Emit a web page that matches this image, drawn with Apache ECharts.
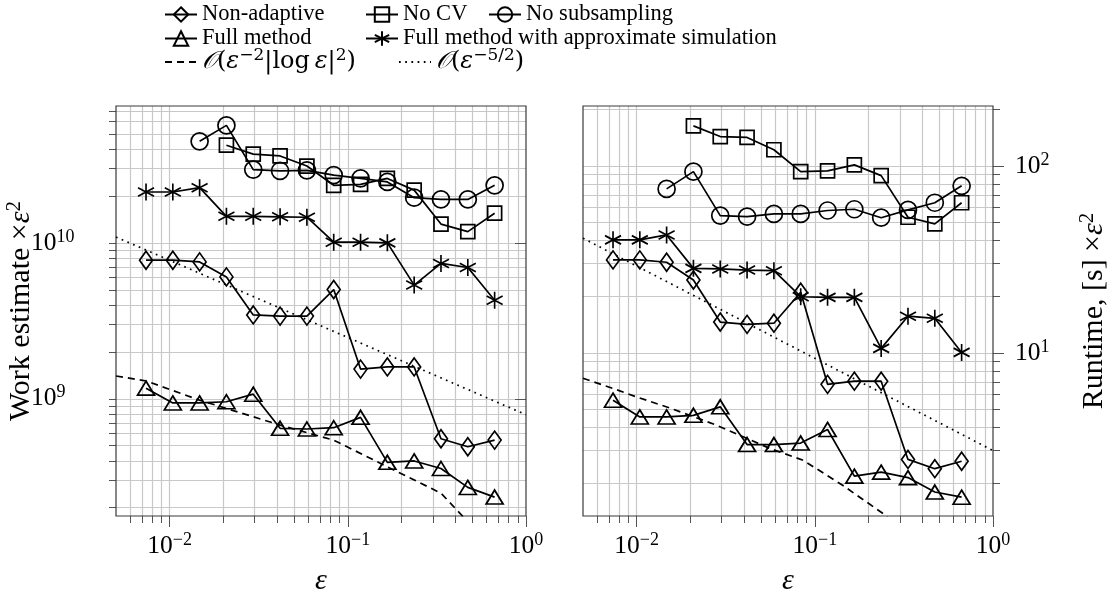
<!DOCTYPE html>
<html><head><meta charset="utf-8">
<script src="https://cdn.jsdelivr.net/npm/echarts@6/dist/echarts.min.js"></script>
<style>html,body{margin:0;padding:0;background:#fff}#c{width:1109px;height:594px}</style>
</head><body><div id="c"></div>
<script>
// ---------- data ----------
const eps = [0.00737, 0.01042, 0.01473, 0.02083, 0.02946, 0.04167, 0.05893, 0.08333, 0.1179, 0.1667, 0.2357, 0.3333, 0.4714, 0.6667];

// Work estimate x eps^2 (left panel)
const nonAdaptiveWork = [7.74e9, 7.74e9, 7.55e9, 6.05e9, 3.45e9, 3.39e9, 3.39e9, 5.02e9, 1.55e9, 1.60e9, 1.60e9, 5.54e8, 4.92e8, 5.43e8];
const noCvWork = [null, null, null, 4.23e10, 3.71e10, 3.61e10, 3.11e10, 2.34e10, 2.37e10, 2.59e10, 2.18e10, 1.32e10, 1.18e10, 1.55e10];
const noSubWork = [null, null, 4.48e10, 5.67e10, 2.95e10, 2.90e10, 2.92e10, 2.72e10, 2.59e10, 2.46e10, 1.95e10, 1.90e10, 1.90e10, 2.34e10];
const fullWork = [1.17e9, 9.4e8, 9.4e8, 9.57e8, 1.07e9, 6.46e8, 6.40e8, 6.52e8, 7.60e8, 3.91e8, 3.99e8, 3.57e8, 2.70e8, 2.34e8];
const fullApproxWork = [2.12e10, 2.12e10, 2.26e10, 1.48e10, 1.48e10, 1.47e10, 1.46e10, 1.01e10, 1.01e10, 1.0e10, 5.36e9, 7.38e9, 6.95e9, 4.28e9];

// Runtime [s] x eps^2 (right panel)
const nonAdaptiveTime = [31.4, 31.4, 30.5, 24.5, 14.6, 14.2, 14.4, 21.1, 6.78, 7.05, 7.05, 2.69, 2.40, 2.63];
const noCvTime = [null, null, null, 163.7, 143.5, 141.9, 121.9, 93.1, 94.0, 101.2, 88.7, 53.1, 48.9, 63.5];
const noSubTime = [null, null, 75.3, 93.1, 54.2, 53.5, 55.3, 55.3, 57.7, 58.6, 52.8, 58.1, 63.5, 78.2];
const fullTime = [5.58, 4.54, 4.54, 4.63, 5.14, 3.23, 3.23, 3.29, 3.89, 2.19, 2.30, 2.15, 1.80, 1.69];
const fullApproxTime = [40.2, 40.2, 42.7, 28.3, 28.1, 27.7, 27.5, 19.95, 19.8, 19.8, 10.56, 15.7, 15.3, 10.05];

// reference rates
const dashEpsLeft = [0.005, 0.0074, 0.0147, 0.0417, 0.0833, 0.1667, 0.3333, 0.44, 0.52];
const dashLeft = [1.40e9, 1.30e9, 9.8e8, 6.78e8, 5.43e8, 3.66e8, 2.48e8, 1.77e8, 1.45e8];
const dotEpsLeft = [0.005, 1];
const dotLeft = [1.09e10, 7.9e8];
const dashEpsRight = [0.005, 0.0074, 0.00998, 0.01535, 0.0281, 0.0559, 0.0861, 0.144, 0.242, 0.28];
const dashRight = [7.31, 6.44, 5.81, 5.07, 4.10, 3.08, 2.66, 1.95, 1.38, 1.2];
const dotEpsRight = [0.005, 1];
const dotRight = [41, 3.0];

// axes
const xRange = [0.005, 1];
const yRangeLeft = [1.77e8, 7.55e10];
const yRangeRight = [1.34, 209];
const xMajorTicks = [0.01, 0.1, 1];
const xMinorTicks = [0.006, 0.007, 0.008, 0.009, 0.01, 0.02, 0.03, 0.04, 0.05, 0.06, 0.07, 0.08, 0.09, 0.1, 0.2, 0.3, 0.4, 0.5, 0.6, 0.7, 0.8, 0.9];
const yMajorTicksLeft = [1e9, 1e10];
const yMinorTicksLeft = [2e8, 3e8, 4e8, 5e8, 6e8, 7e8, 8e8, 9e8, 1e9, 2e9, 3e9, 4e9, 5e9, 6e9, 7e9, 8e9, 9e9, 1e10, 2e10, 3e10, 4e10, 5e10, 6e10, 7e10];
const yMajorTicksRight = [10, 100];
const yMinorTicksRight = [2, 3, 4, 5, 6, 7, 8, 9, 10, 20, 30, 40, 50, 60, 70, 80, 90, 100, 200];

const names = ['Non-adaptive', 'No CV', 'No subsampling', 'Full method', 'Full method with approximate simulation', 'O(ε^-2|log ε|^2)', 'O(ε^-5/2)'];

// ---------- styling ----------
const F = '"Liberation Serif", "DejaVu Serif", serif';
const FM = '"DejaVu Serif", "Liberation Serif", serif';
const rich = {
  // legend text
  t: {fontFamily: F, fontSize: 22.5, lineHeight: 26, color: '#000'},
  // legend math
  m: {fontFamily: FM, fontSize: 24, lineHeight: 30, color: '#000'},
  mi: {fontFamily: FM, fontSize: 24, lineHeight: 30, fontStyle: 'italic', color: '#000'},
  ms: {fontFamily: FM, fontSize: 17, lineHeight: 19, verticalAlign: 'top', color: '#000'},
  // tick labels
  a: {fontFamily: F, fontSize: 25.5, lineHeight: 30, color: '#000'},
  as: {fontFamily: F, fontSize: 18, lineHeight: 18, verticalAlign: 'top', color: '#000'},
  // axis names
  n: {fontFamily: F, fontSize: 30, lineHeight: 34, color: '#000'},
  ni: {fontFamily: F, fontSize: 30, lineHeight: 34, fontStyle: 'italic', color: '#000'},
  ns: {fontFamily: F, fontSize: 21, lineHeight: 21, verticalAlign: 'top', color: '#000'}
};
const legendText = {
  'O(ε^-2|log ε|^2)': '{mi|𝒪}{m|(}{mi|ε}{ms|−2}{m||log\u2009}{mi|ε}{m||}{ms|2}{m|)}',
  'O(ε^-5/2)': '{mi|𝒪}{m|(}{mi|ε}{ms|−5/2}{m|)}'
};
const pow10 = v => {
  const e = Math.round(v);
  return '{a|10}{as|' + (e < 0 ? '−' + (-e) : e) + '}';
};
const L = Math.log10;
const GRID_COL = '#c8c8c8';
const TICK_COL = '#555555';

const grids = [
  {left: 116, top: 106, width: 410, height: 410},
  {left: 583, top: 106, width: 410, height: 410}
];

function xAxesFor(g) {
  return [
    {type: 'log', gridIndex: g, min: xRange[0], max: xRange[1], show: false},
    {type: 'value', gridIndex: g, min: L(xRange[0]), max: L(xRange[1]), position: 'bottom',
     axisLine: {show: false}, splitLine: {show: false},
     axisTick: {show: true, length: 11, lineStyle: {color: TICK_COL, width: 1}, customValues: xMajorTicks.map(L)},
     axisLabel: {customValues: xMajorTicks.map(L), formatter: pow10, margin: 15, rich: rich},
     name: '{ni|ε}', nameLocation: 'middle', nameGap: 48, nameMoveOverlap: false, nameTextStyle: {rich: rich}},
    {type: 'value', gridIndex: g, min: L(xRange[0]), max: L(xRange[1]), position: 'bottom',
     axisLine: {show: false}, axisLabel: {show: false},
     axisTick: {show: true, length: 7, lineStyle: {color: TICK_COL, width: 1}, customValues: xMinorTicks.map(L)},
     splitLine: {show: true, lineStyle: {color: GRID_COL, width: 1.2}}}
  ];
}
function yAxesFor(g, range, major, minor, pos, labelAlign, labelMargin, name, nameGap) {
  return [
    {type: 'log', gridIndex: g, min: range[0], max: range[1], show: false},
    {type: 'value', gridIndex: g, min: L(range[0]), max: L(range[1]), position: pos,
     axisLine: {show: false}, splitLine: {show: false},
     axisTick: {show: true, length: 11, lineStyle: {color: TICK_COL, width: 1}, customValues: major.map(L)},
     axisLabel: {customValues: major.map(L), formatter: pow10, margin: labelMargin, align: labelAlign, rich: rich},
     name: name, nameLocation: 'middle', nameGap: nameGap, nameRotate: 90, nameMoveOverlap: false, nameTextStyle: {rich: rich}},
    {type: 'value', gridIndex: g, min: L(range[0]), max: L(range[1]), position: pos,
     axisLine: {show: false}, axisLabel: {show: false},
     axisTick: {show: true, length: 7, lineStyle: {color: TICK_COL, width: 1}, customValues: minor.map(L)},
     splitLine: {show: true, lineStyle: {color: GRID_COL, width: 1.2}}}
  ];
}

const pairs = (xs, ys) => xs.map((x, i) => [x, ys[i]]).filter(p => p[1] != null);
const markStyle = {color: 'transparent', borderColor: '#000', borderWidth: 1.7};
const starPath = 'path://M0,-10L0,10M-8.66,-5L8.66,5M-8.66,5L8.66,-5';

function dataSeries(g, name, xs, ys, symbol, size) {
  return {type: 'line', name: name, xAxisIndex: g * 3, yAxisIndex: g * 3,
    data: pairs(xs, ys), symbol: symbol, symbolSize: size, showSymbol: true,
    lineStyle: {color: '#000', width: 1.7}, itemStyle: markStyle,
    emphasis: {disabled: true}, animation: false, z: 3};
}
function refSeries(g, name, xs, ys, type) {
  return {type: 'line', name: name, xAxisIndex: g * 3, yAxisIndex: g * 3,
    data: pairs(xs, ys), symbol: 'none',
    lineStyle: {color: '#000', width: 1.7, type: type}, itemStyle: {color: '#000'},
    emphasis: {disabled: true}, animation: false, z: 2};
}

const panels = [
  [nonAdaptiveWork, noCvWork, noSubWork, fullWork, fullApproxWork, [dashEpsLeft, dashLeft], [dotEpsLeft, dotLeft]],
  [nonAdaptiveTime, noCvTime, noSubTime, fullTime, fullApproxTime, [dashEpsRight, dashRight], [dotEpsRight, dotRight]]
];
const symbols = [['diamond', [13, 18]], ['rect', [14, 14]], ['circle', 17], ['triangle', [17, 14]], [starPath, [16, 17]]];

const series = [];
panels.forEach((p, g) => {
  for (let k = 0; k < 5; k++) series.push(dataSeries(g, names[k], eps, p[k], symbols[k][0], symbols[k][1]));
  series.push(refSeries(g, names[5], p[5][0], p[5][1], [7, 5]));
  series.push(refSeries(g, names[6], p[6][0], p[6][1], [1.7, 4.5]));
});

const legendPos = [[164, 3], [365, 3], [488, 3], [164, 27], [365, 27], [164, 47], [398, 47]];
const legends = names.map((n, k) => {
  const lg = {
    data: [n], left: legendPos[k][0], top: legendPos[k][1], padding: 0,
    itemWidth: 32, itemHeight: 18, selectedMode: false,
    formatter: nm => legendText[nm] || ('{t|' + nm + '}'),
    textStyle: {rich: rich}
  };
  if (k >= 5) lg.itemStyle = {color: 'transparent', borderColor: 'transparent', borderWidth: 0, opacity: 0};
  return lg;
});

const option = {
  animation: false,
  backgroundColor: '#fff',
  grid: grids.map(g => Object.assign({show: true, z: 1, backgroundColor: 'transparent', borderColor: '#3a3a3a', borderWidth: 1.2,
                                      containLabel: false, outerBoundsMode: 'none'}, g)),
  legend: legends,
  xAxis: xAxesFor(0).concat(xAxesFor(1)),
  yAxis: yAxesFor(0, yRangeLeft, yMajorTicksLeft, yMinorTicksLeft, 'left', 'left', 85,
                  '{n|Work estimate ×}{ni|ε}{ns|2}', 78)
        .concat(yAxesFor(1, yRangeRight, yMajorTicksRight, yMinorTicksRight, 'right', 'left', 22,
                  '{n|Runtime, [s] ×}{ni|ε}{ns|2}', 84)),
  series: series
};
const chart = echarts.init(document.getElementById('c'), null, {renderer: 'canvas'});
chart.setOption(option);
</script>
</body></html>
